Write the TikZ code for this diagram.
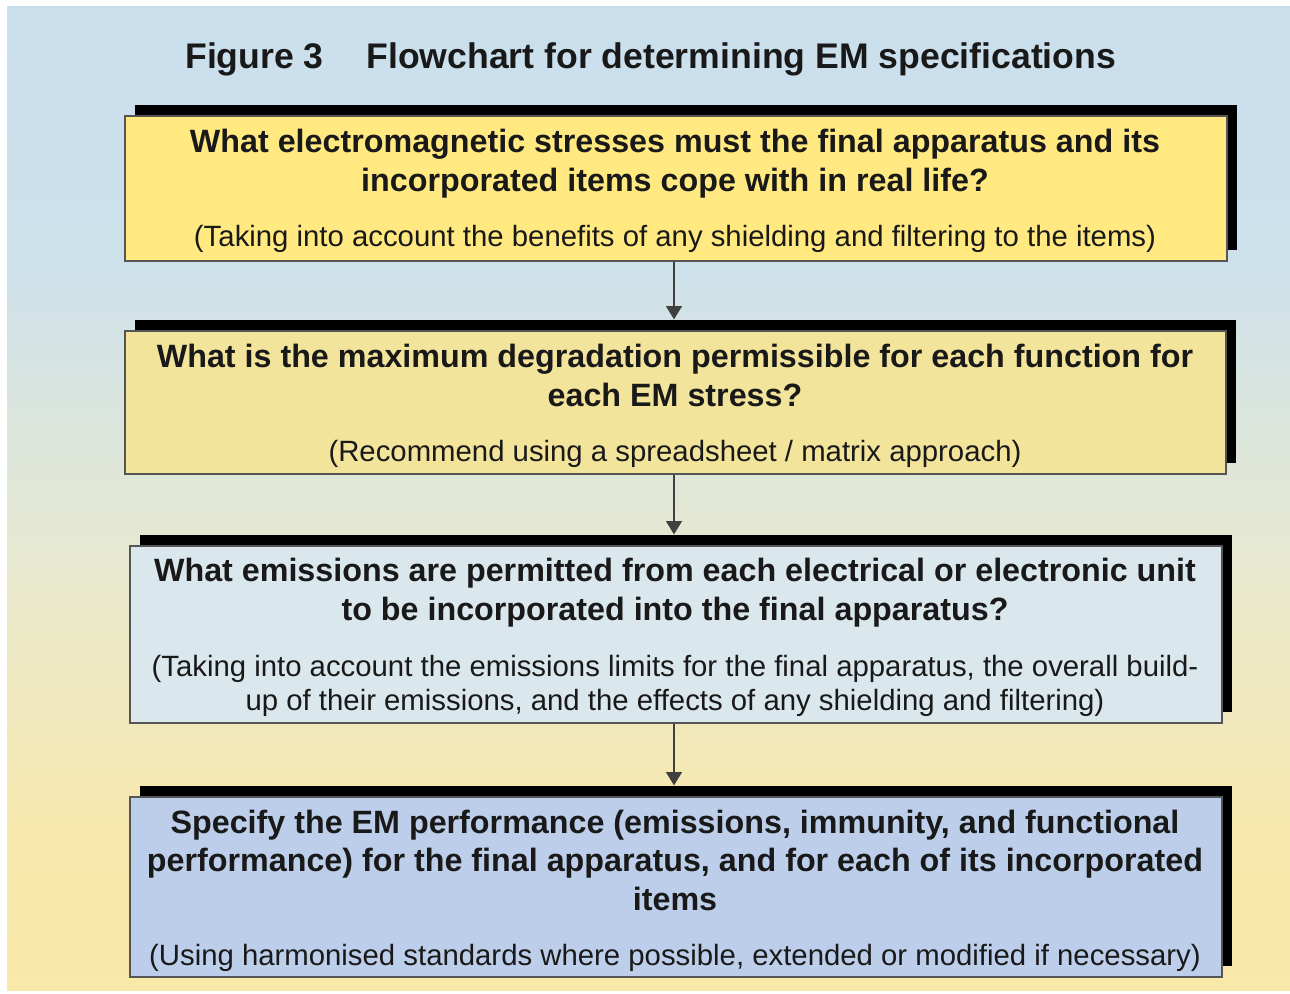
\documentclass[tikz,border=0pt]{standalone}
\usepackage{fontspec}
\setmainfont{Liberation Sans}
\usetikzlibrary{shadows,arrows.meta}
\definecolor{fillA}{RGB}{255,233,128}
\definecolor{fillB}{RGB}{243,228,155}
\definecolor{fillC}{RGB}{218,231,236}
\definecolor{fillD}{RGB}{188,206,234}
\definecolor{edgecol}{RGB}{85,85,85}
\definecolor{inkcol}{RGB}{25,25,25}
\pgfdeclareverticalshading{bgshade}{100bp}{
  rgb(0bp)=(0.992,0.918,0.612);
  rgb(33bp)=(0.972,0.910,0.680);
  rgb(48bp)=(0.898,0.910,0.824);
  rgb(62bp)=(0.804,0.882,0.922);
  rgb(100bp)=(0.769,0.863,0.933)}
\tikzset{
  boxstyle/.style={draw=edgecol, line width=0.9pt, inner sep=0pt,
    drop shadow={shadow xshift=7.5pt, shadow yshift=8.25pt, fill=black, opacity=1}},
  hline/.style={anchor=base, inner sep=0pt, text=inkcol,
    font=\fontsize{24.2pt}{28pt}\selectfont\bfseries},
  subline/.style={anchor=base, inner sep=0pt, text=inkcol,
    font=\fontsize{22pt}{26pt}\selectfont},
  titlestyle/.style={anchor=base west, inner sep=0pt, text=inkcol,
    font=\fontsize{26.7pt}{32pt}\selectfont\bfseries},
  arr/.style={draw=black!75, line width=1pt, -{Triangle[width=12pt,length=10pt]}}
}
\begin{document}
\begin{tikzpicture}[x=0.75pt,y=-0.75pt]
\useasboundingbox (0,0) rectangle (1290,994);
\fill[white] (0,0) rectangle (1290,994);
\shade[shading=bgshade] (7,7) rectangle (1290,990);

% title
\node[titlestyle] (title) at (185,69) {Figure 3\hspace{32pt}Flowchart for determining EM specifications};

% boxes
\node[boxstyle, fill=fillA, minimum width=826.5pt, minimum height=108.75pt] (b1) at (676,188.5) {};
\node[boxstyle, fill=fillB, minimum width=825.75pt, minimum height=107.25pt] (b2) at (675.5,402.5) {};
\node[boxstyle, fill=fillC, minimum width=819pt, minimum height=132.75pt] (b3) at (676,634.5) {};
\node[boxstyle, fill=fillD, minimum width=819pt, minimum height=135pt] (b4) at (676,887) {};

% box 1 text
\node[hline] (h1a) at (675,153) {What electromagnetic stresses must the final apparatus and its};
\node[hline] (h1b) at (675,192) {incorporated items cope with in real life?};
\node[subline] (s1a) at (675,247) {(Taking into account the benefits of any shielding and filtering to the items)};

% box 2 text
\node[hline] (h2a) at (675,368) {What is the maximum degradation permissible for each function for};
\node[hline] (h2b) at (675,407) {each EM stress?};
\node[subline] (s2a) at (675,462) {(Recommend using a spreadsheet / matrix approach)};

% box 3 text
\node[hline] (h3a) at (675,582) {What emissions are permitted from each electrical or electronic unit};
\node[hline] (h3b) at (675,621) {to be incorporated into the final apparatus?};
\node[subline] (s3a) at (675,677) {(Taking into account the emissions limits for the final apparatus, the overall build-};
\node[subline] (s3b) at (675,711) {up of their emissions, and the effects of any shielding and filtering)};

% box 4 text
\node[hline] (h4a) at (675,833) {Specify the EM performance (emissions, immunity, and functional};
\node[hline] (h4b) at (675,871) {performance) for the final apparatus, and for each of its incorporated};
\node[hline] (h4c) at (675,910) {items};
\node[subline] (s4a) at (675,965) {(Using harmonised standards where possible, extended or modified if necessary)};

% arrow end points on the shadow tops
\coordinate (t2) at ([yshift=8.25pt]b2.north);
\coordinate (t3) at ([yshift=8.25pt]b3.north);
\coordinate (t4) at ([yshift=8.25pt]b4.north);

% connectors
\draw[arr] ([xshift=-1.5pt]b1.south) -- ([xshift=-1.5pt]b1.south |- t2);
\draw[arr] ([xshift=-1.5pt]b1.south |- b2.south) -- ([xshift=-1.5pt]b1.south |- t3);
\draw[arr] ([xshift=-1.5pt]b1.south |- b3.south) -- ([xshift=-1.5pt]b1.south |- t4);
\end{tikzpicture}
\end{document}
